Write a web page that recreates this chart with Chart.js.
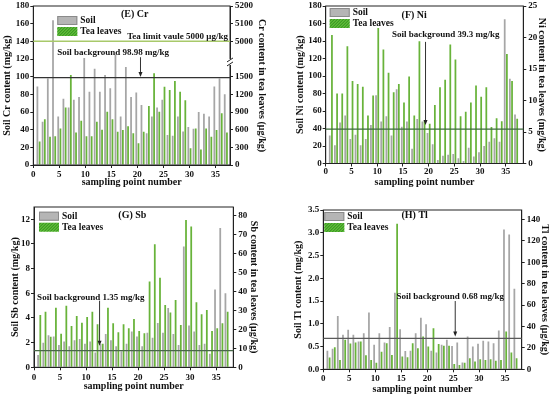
<!DOCTYPE html>
<html lang="en">
<head>
<meta charset="UTF-8">
<title>Soil and tea leaves: Cr, Ni, Sb, Tl</title>
<script src="https://cdn.jsdelivr.net/npm/chart.js"></script>
<style>
  body { margin: 0; background: #fff; }
  .wrap { position: relative; width: 550px; height: 398px; }
  .panel { position: absolute; width: 275px; height: 199px; }
</style>
</head>
<body>
<div class="wrap">
  <div class="panel" style="left:0;top:0"><canvas id="chartCr" width="275" height="199"></canvas></div>
  <div class="panel" style="left:275px;top:0"><canvas id="chartNi" width="275" height="199"></canvas></div>
  <div class="panel" style="left:0;top:199px"><canvas id="chartSb" width="275" height="199"></canvas></div>
  <div class="panel" style="left:275px;top:199px"><canvas id="chartTl" width="275" height="199"></canvas></div>
</div>

<script>
// sampling points
const points = [1, 2, 3, 4, 5, 6, 7, 8, 9, 10, 11, 12, 13, 14, 15, 16, 17, 18, 19, 20,
                21, 22, 23, 24, 25, 26, 27, 28, 29, 30, 31, 32, 33, 34, 35, 36, 37];
const xTicks = [0, 5, 10, 15, 20, 25, 30, 35];

// (E) Cr - soil mg/kg, tea ug/kg
const crSoil = [89, 49, 98, 164, 55, 75, 65, 74, 77, 121, 83, 109, 83, 102, 87, 125, 55, 111, 77,
                82, 68, 36, 55, 65, 74, 34, 33, 55, 38, 43, 41, 60, 58, 55, 89, 98, 80];
const crTea = [400, 775, 480, 490, 620, 975, 1530, 550, 750, 490, 490, 735, 600, 905, 775, 565, 595,
               660, 540, 370, 565, 1000, 1560, 905, 1330, 1275, 1425, 1245, 1100, 285, 620, 265, 620,
               480, 595, 880, 550];
const crSoilTicks = [0, 20, 40, 60, 80, 100, 120, 140, 160, 180];
const crTeaTicks = [0, 300, 600, 900, 1200, 1500, 5000, 5100, 5200];
const crBackground = 98.98;
const crTeaLimit = 5000;

// (F) Ni - soil mg/kg, tea mg/kg
const niSoil = [32, 21, 47, 55, 28, 33, 21, 28, 44, 78, 48, 54, 32, 85, 42, 48, 17, 51, 48,
                35, 22, 4, 9, 10, 11, 6, 3, 18, 8, 13, 20, 25, 29, 25, 165, 97, 56];
const niTea = [20.4, 11.1, 11.1, 18.6, 13.1, 12.6, 12.2, 7.6, 10.8, 21.5, 18.1, 14.4, 11.3, 12.6,
               9.7, 13.8, 7.6, 19.4, 6.8, 6.3, 9.3, 12.1, 13.3, 18.9, 16.5, 7.5, 8.2, 9.7, 12.4,
               10.6, 12.1, 5.8, 7.2, 6.7, 17.4, 13.1, 7.1];
const niSoilTicks = [0, 20, 40, 60, 80, 100, 120, 140, 160, 180];
const niTeaTicks = [0, 5, 10, 15, 20, 25];
const niBackground = 39.3;

// (G) Sb - soil mg/kg, tea ug/kg
const sbSoil = [1.0, 2.0, 2.6, 2.5, 1.8, 2.1, 1.7, 2.2, 2.3, 1.9, 2.1, 1.2, 1.9, 2.7, 2.2, 1.7, 1.3,
                1.9, 2.9, 2.5, 1.7, 2.8, 2.4, 3.6, 2.8, 4.8, 2.7, 1.8, 9.8, 3.4, 2.9, 1.8, 1.9, 1.1,
                6.3, 11.3, 6.0];
const sbTea = [27.7, 29.4, 16.2, 31.5, 17.8, 32.6, 21.8, 27.1, 23.6, 26.6, 29.4, 22.7, 12.5, 31.5,
               23.3, 18.5, 22.7, 20.6, 25.6, 19.2, 18.0, 45.3, 65.0, 47.4, 33.0, 29.0, 35.6, 22.4,
               77.9, 74.4, 34.4, 28.0, 30.3, 19.2, 20.6, 23.3, 29.4];
const sbSoilTicks = [0, 2, 4, 6, 8, 10, 12];
const sbTeaTicks = [0, 10, 20, 30, 40, 50, 60, 70, 80];
const sbBackground = 1.35;

// (H) Tl - soil mg/kg, tea ug/kg
const tlSoil = [0.41, 0.45, 1.17, 0.76, 0.87, 0.76, 0.61, 0.79, 1.25, 0.54, 0.79, 0.59, 0.93, 1.68,
                0.88, 0.40, 0.41, 0.79, 1.13, 0.99, 0.41, 0.37, 0.54, 0.65, 0.51, 0.59, 0.15, 0.72,
                0.50, 0.56, 0.63, 0.61, 0.57, 0.85, 3.07, 2.96, 1.77];
const tlTea = [11, 20.5, 8.7, 27.5, 24, 25, 26, 13.1, 8.7, 6.2, 16.5, 24.4, 13.4, 136, 11.9, 11.2,
               24.4, 19.7, 30.6, 21.2, 38.4, 23.7, 21.9, 21.9, 5, 4.1, 6, 10.3, 7.2, 9.4, 8.7, 9.4,
               8.1, 8.7, 35.3, 15.6, 10.3];
const tlSoilTicks = [0, 0.5, 1.0, 1.5, 2.0, 2.5, 3.0, 3.5];
const tlTeaTicks = [0, 20, 40, 60, 80, 100, 120, 140];
const tlBackground = 0.68;

const serif = "'Liberation Serif', 'Times New Roman', serif";
const soilColor = '#a6a6a6';
const teaColor = '#68b33a';
const axisColor = '#222';

// Cr tea axis is broken: 0-1500 below the break, 5000-5200 above it
function crTeaPos(v) {
  return v <= 1500 ? v : 2100 + (v - 5000) * 3;
}

const extrasPlugin = {
  id: 'extras',
  afterDatasetsDraw(chart, args, o) {
    const { ctx, chartArea: a, scales } = chart;
    const xs = scales.x;
    ctx.save();

    // frame
    ctx.strokeStyle = axisColor;
    ctx.lineWidth = 1;
    ctx.strokeRect(a.left, a.top, a.right - a.left, a.bottom - a.top);

    // soil background line
    const by = scales.ySoil.getPixelForValue(o.background);
    ctx.strokeStyle = o.lineColor;
    ctx.lineWidth = 1.3;
    ctx.beginPath(); ctx.moveTo(a.left, by); ctx.lineTo(a.right, by); ctx.stroke();

    // tea limit line
    if (o.limit !== undefined) {
      const ly = scales.yTea.getPixelForValue(o.limit);
      ctx.strokeStyle = '#a8c96a';
      ctx.lineWidth = 1.5;
      ctx.beginPath(); ctx.moveTo(a.left, ly); ctx.lineTo(a.right, ly); ctx.stroke();
    }

    // broken axis marks
    if (o.breakAt !== undefined) {
      const y = scales.yTea.getPixelForValue(o.breakAt);
      ctx.fillStyle = '#fff';
      ctx.fillRect(a.right - 3, y - 3, 6, 6);
      ctx.strokeStyle = axisColor;
      ctx.lineWidth = 1;
      [-2, 2].forEach(d => {
        ctx.beginPath();
        ctx.moveTo(a.right - 3, y + d + 2);
        ctx.lineTo(a.right + 3, y + d - 2);
        ctx.stroke();
      });
    }

    // arrow
    if (o.arrow) {
      const ax = xs.getPixelForValue(o.arrow.x);
      const y1 = scales.ySoil.getPixelForValue(o.arrow.from);
      const y2 = scales.ySoil.getPixelForValue(o.arrow.to);
      ctx.strokeStyle = '#333';
      ctx.fillStyle = '#222';
      ctx.lineWidth = 1;
      ctx.beginPath(); ctx.moveTo(ax, y1); ctx.lineTo(ax, y2 - 3); ctx.stroke();
      ctx.beginPath(); ctx.moveTo(ax - 2, y2 - 5); ctx.lineTo(ax + 2, y2 - 5); ctx.lineTo(ax, y2); ctx.closePath(); ctx.fill();
    }

    // texts
    ctx.fillStyle = '#111';
    ctx.textBaseline = 'middle';
    o.texts.forEach(t => {
      ctx.font = `bold ${t.size || 9}px ${serif}`;
      ctx.textAlign = t.align;
      ctx.fillText(t.text, xs.getPixelForValue(t.x), scales.ySoil.getPixelForValue(t.y));
    });

    // legend
    const lx = a.left + o.legend.dx;
    const ly = a.top + o.legend.dy;
    ctx.fillStyle = '#b5b5b5';
    ctx.fillRect(lx, ly, 20, 9);
    ctx.strokeStyle = '#8a8a8a';
    ctx.strokeRect(lx + 0.5, ly + 0.5, 19, 8);
    ctx.fillStyle = '#5fbd38';
    ctx.fillRect(lx, ly + 11, 20, 9);
    ctx.save();
    ctx.beginPath(); ctx.rect(lx, ly + 11, 20, 9); ctx.clip();
    ctx.strokeStyle = '#2f8a1e';
    ctx.lineWidth = 1;
    for (let s = -10; s < 30; s += 3) {
      ctx.beginPath(); ctx.moveTo(lx + s, ly + 20); ctx.lineTo(lx + s + 9, ly + 11); ctx.stroke();
    }
    ctx.restore();
    ctx.fillStyle = '#111';
    ctx.font = `bold 9.5px ${serif}`;
    ctx.textAlign = 'left';
    ctx.fillText('Soil', lx + 23, ly + 4.5);
    ctx.fillText('Tea leaves', lx + 23, ly + 15.5);

    ctx.restore();
  }
};

function makePanel(p) {
  const tickFont = { family: serif, weight: 'bold', size: 9 };
  const titleFont = { family: serif, weight: 'bold', size: 10, lineHeight: 1 };
  const grid = { display: true, drawOnChartArea: false, drawTicks: true, tickLength: 3, color: axisColor };
  const border = { display: true, color: axisColor, width: 1 };

  return new Chart(document.getElementById(p.id), {
    type: 'bar',
    data: {
      datasets: [
        {
          label: 'Soil',
          data: points.map((x, i) => ({ x: x, y: p.soil[i] })),
          yAxisID: 'ySoil',
          stack: 'soil',
          backgroundColor: soilColor,
          categoryPercentage: 0.85,
          barPercentage: 0.8
        },
        {
          label: 'Tea leaves',
          data: points.map((x, i) => ({ x: x, y: p.tea[i] })),
          yAxisID: 'yTea',
          stack: 'tea',
          backgroundColor: teaColor,
          categoryPercentage: 0.85,
          barPercentage: 0.8
        }
      ]
    },
    options: {
      responsive: false,
      animation: false,
      layout: { padding: { top: p.area.top, left: 0, right: 0, bottom: 0 } },
      plugins: { legend: { display: false }, tooltip: { enabled: false }, extras: p.extras },
      scales: {
        x: {
          type: 'linear',
          min: 0,
          max: p.xMax,
          offset: false,
          grid: Object.assign({}, grid, { offset: false }),
          border: border,
          afterBuildTicks: s => { s.ticks = xTicks.map(v => ({ value: v })); },
          afterFit: s => { s.height = p.area.bottom; s.paddingLeft = 0; s.paddingRight = 0; },
          ticks: { font: tickFont, color: '#111', padding: p.xPad, maxRotation: 0 },
          title: { display: true, text: 'sampling point number', font: titleFont, color: '#111',
                   padding: { top: 0, bottom: p.xTitlePad } }
        },
        ySoil: {
          position: 'left',
          min: 0,
          max: p.soilMax,
          grid: grid,
          border: border,
          afterBuildTicks: s => { s.ticks = p.soilTicks.map(v => ({ value: v })); },
          afterFit: s => { s.width = p.area.left; s.paddingTop = 0; s.paddingBottom = 0; },
          ticks: { font: tickFont, color: '#111', padding: 1,
                   callback: (v, i) => p.soilLabel ? p.soilLabel(p.soilTicks[i]) : String(p.soilTicks[i]) },
          title: { display: true, text: p.soilTitle, font: titleFont, color: '#111',
                   padding: { top: p.leftTitlePad, bottom: 0 } }
        },
        yTea: {
          position: 'right',
          min: 0,
          max: p.teaMax,
          grid: grid,
          border: border,
          afterBuildTicks: s => { s.ticks = p.teaTicks.map(v => ({ value: p.teaPos ? p.teaPos(v) : v })); },
          afterFit: s => { s.width = p.area.right; s.paddingTop = 0; s.paddingBottom = 0; },
          ticks: { font: tickFont, color: '#111', padding: 2,
                   callback: (v, i) => String(p.teaTicks[i]) },
          title: { display: true, text: p.teaTitle, font: titleFont, color: '#111',
                   padding: { top: p.rightTitlePad, bottom: 0 } }
        }
      }
    },
    plugins: [extrasPlugin]
  });
}

makePanel({
  id: 'chartCr', soil: crSoil, tea: crTea,
  soilTicks: crSoilTicks, teaTicks: crTeaTicks, teaPos: crTeaPos,
  soilMax: 180, teaMax: 2700, xMax: 37.8,
  soilTitle: 'Soil Cr content (mg/kg)', teaTitle: 'Cr content in tea leaves (μg/kg)',
  area: { left: 33.3, right: 45, top: 6, bottom: 34 },
  xPad: 1.6, xTitlePad: 11.3, leftTitlePad: 2.2, rightTitlePad: 8.3,
  extras: {
    background: crBackground, lineColor: '#333',
    limit: crTeaPos(crTeaLimit), breakAt: 1750,
    arrow: { x: 20.6, from: 122, to: 99.5 },
    legend: { dx: 24, dy: 10 },
    texts: [
      { text: '(E) Cr', x: 19.5, y: 170, align: 'center', size: 10 },
      { text: 'Soil background 98.98 mg/kg', x: 4.6, y: 127, align: 'left' },
      { text: 'Tea limit vaule 5000 μg/kg', x: 37.4, y: 145.5, align: 'right' }
    ]
  }
});

makePanel({
  id: 'chartNi', soil: niSoil, tea: niTea,
  soilTicks: niSoilTicks, teaTicks: niTeaTicks,
  soilMax: 180, teaMax: 25, xMax: 38.4,
  soilTitle: 'Soil Ni content (mg/kg)', teaTitle: 'Ni content in tea leaves (mg/kg)',
  area: { left: 50.7, right: 26.7, top: 6, bottom: 35.5 },
  xPad: 0, xTitlePad: 11.3, leftTitlePad: 20.5, rightTitlePad: 3.3,
  extras: {
    background: niBackground, lineColor: '#3c6b3c',
    arrow: { x: 19.4, from: 139, to: 44 },
    legend: { dx: 4, dy: 2 },
    texts: [
      { text: '(F) Ni', x: 17.2, y: 169.5, align: 'center', size: 10 },
      { text: 'Soil background 39.3 mg/kg', x: 12.9, y: 147, align: 'left' }
    ]
  }
});

makePanel({
  id: 'chartSb', soil: sbSoil, tea: sbTea,
  soilTicks: sbSoilTicks, teaTicks: sbTeaTicks,
  soilMax: 13, teaMax: 84.75, xMax: 38.3,
  soilTitle: 'Soil Sb content (mg/kg)', teaTitle: 'Sb content in tea leaves (μg/kg)',
  area: { left: 34, right: 41.7, top: 8, bottom: 30.7 },
  xPad: 1.6, xTitlePad: 7, leftTitlePad: 10, rightTitlePad: 16.7,
  extras: {
    background: sbBackground, lineColor: '#4a684a',
    arrow: { x: 12.6, from: 5.4, to: 1.75 },
    legend: { dx: 5, dy: 4.7 },
    texts: [
      { text: '(G) Sb', x: 18.9, y: 12.3, align: 'center', size: 10 },
      { text: 'Soil background 1.35 mg/kg', x: 0.6, y: 5.68, align: 'left' }
    ]
  }
});

makePanel({
  id: 'chartTl', soil: tlSoil, tea: tlTea,
  soilTicks: tlSoilTicks, teaTicks: tlTeaTicks, soilLabel: v => v.toFixed(1),
  soilMax: 3.5, teaMax: 148.75, xMax: 38.2,
  soilTitle: 'Soil Tl content (mg/kg)', teaTitle: 'Tl content in tea leaves (μg/kg)',
  area: { left: 48.3, right: 28.3, top: 11, bottom: 28.7 },
  xPad: 0.6, xTitlePad: 3.7, leftTitlePad: 18.3, rightTitlePad: 0,
  extras: {
    background: tlBackground, lineColor: '#5a5a5a',
    arrow: { x: 25.4, from: 1.5, to: 0.72 },
    legend: { dx: 1, dy: 2 },
    texts: [
      { text: '(H) Tl', x: 17.6, y: 3.39, align: 'center', size: 10 },
      { text: 'Soil background 0.68 mg/kg', x: 14.1, y: 1.59, align: 'left' }
    ]
  }
});
</script>
</body>
</html>
